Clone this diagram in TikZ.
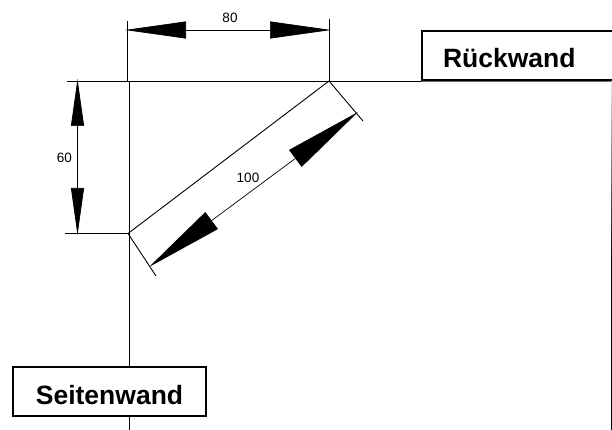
\documentclass[tikz,border=0pt]{standalone}
\usepackage{fontspec}
\setmainfont{Liberation Sans}
\usetikzlibrary{arrows.meta}
\tikzset{
  wall/.style={draw, line width=0.9pt},
  measure/.style={draw, line width=0.9pt},
  wallbox/.style={draw, fill=white, line width=2pt, font=\bfseries\fontsize{26.5}{28}\selectfont, text height=25pt, text depth=0pt},
  dimtext/.style={font=\fontsize{13.5}{15}\selectfont, inner sep=0pt}
}
\begin{document}
\begin{tikzpicture}[x=1pt, y=-1pt]
  \useasboundingbox (0,0) rectangle (612,430);
  \clip (0,0) rectangle (612,430);
  % corner points
  \coordinate (back) at (329,81);
  \coordinate (side) at (128,233.5);
  \coordinate (corner) at (129,81);
  % walls
  \coordinate (backL) at (67,81);
  \coordinate (backR) at (612,81);
  \coordinate (sideB) at (129,430);
  \draw[wall] (backL) -- (421,81);
  \draw[line width=0.7pt, black!60] (421,81) -- (backR);
  \draw[wall] (corner) -- (sideB);
  \shade[top color=black!10, bottom color=black] (611,82) rectangle (612,260);
  \fill[black] (611,260) rectangle (612,430);
  % extension lines
  \coordinate (ext1) at (127,21);
  \coordinate (ext1b) at (127,81);
  \coordinate (ext2) at (329,19);
  \coordinate (ext3) at (65,233.5);
  \coordinate (ext4) at (363,121);
  \coordinate (ext5) at (156,276);
  \draw[measure] (ext1) -- (ext1b);
  \draw[measure] (ext2) -- (back);
  \draw[measure] (ext3) -- (side);
  \draw[measure] (back) -- (ext4);
  \draw[measure] (side) -- (ext5);
  \draw[measure] (back) -- (side);
  % dimension lines
  \coordinate (d1a) at (125,30);
  \coordinate (d1b) at (331,30);
  \coordinate (d2a) at (77.5,79);
  \coordinate (d2b) at (77.5,235);
  \coordinate (d3a) at (149,267);
  \coordinate (d3b) at (358,112);
  \draw[line width=0.7pt, {Triangle[length=61pt,width=17pt]}-{Triangle[length=61pt,width=17pt]}] (d1a) -- (d1b);
  \draw[line width=0.7pt, {Triangle[length=47pt,width=13pt]}-{Triangle[length=47pt,width=13pt]}] (d2a) -- (d2b);
  \draw[line width=0.7pt, {Triangle[length=78pt,width=21pt]}-{Triangle[length=78pt,width=21pt]}] (d3a) -- (d3b);
  % labels
  \node[dimtext] (t80) at (230,18) {80};
  \node[dimtext] (t60) at (64.5,158) {60};
  \node[dimtext] (t100) at (248,178) {100};
  \node[wallbox, anchor=west, minimum height=49pt, inner xsep=21pt, text width=153pt, align=left] (rueck) at (421,55.5) {Rückwand};
  \node[wallbox, minimum height=49pt, minimum width=193pt, inner sep=0pt] (seite) at (109.5,391.5) {Seitenwand};
\end{tikzpicture}
\end{document}
